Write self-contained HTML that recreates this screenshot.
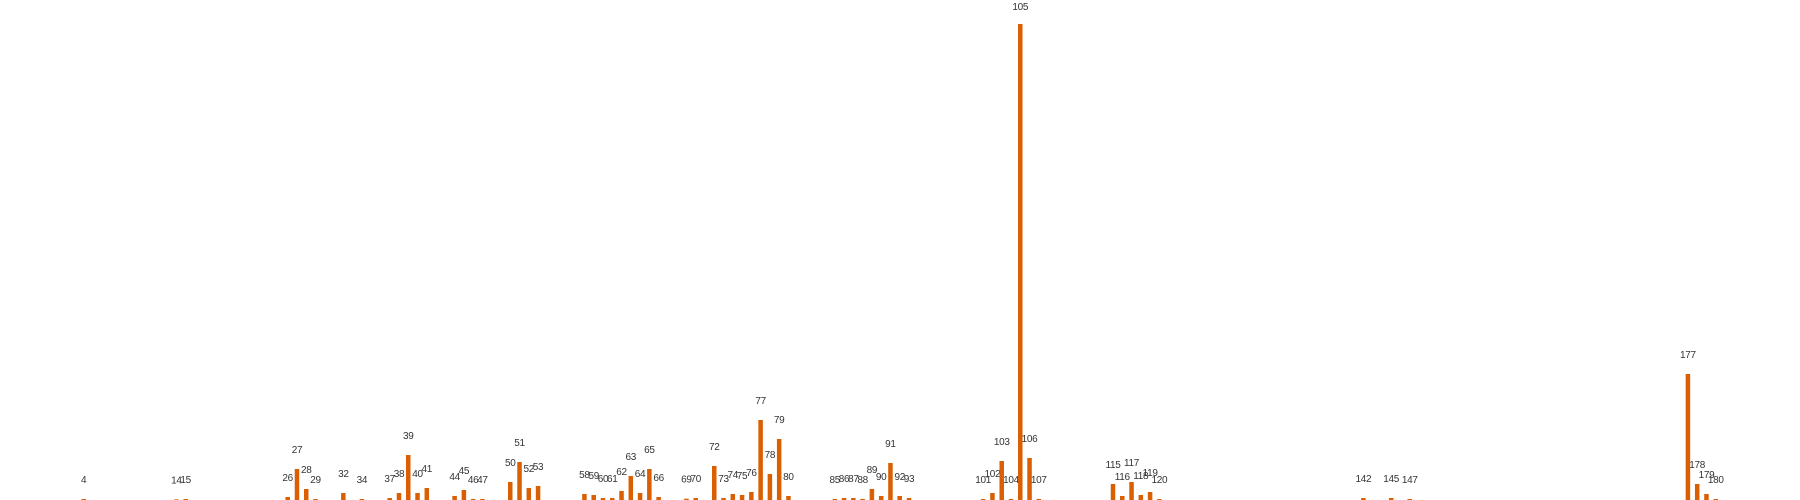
<!DOCTYPE html>
<html><head><meta charset="utf-8"><style>
html,body{margin:0;padding:0;background:#fff;}
svg{display:block;}
text{font-family:"Liberation Sans",sans-serif;font-size:10px;letter-spacing:-0.3px;fill:#333;}
</style></head><body>
<svg id="chart" width="1800" height="500" viewBox="0 0 1800 500"></svg>
<script>
const categories = [4,14,15,26,27,28,29,32,34,37,38,39,40,41,44,45,46,47,50,51,52,53,58,59,60,61,62,63,64,65,66,69,70,72,73,74,75,76,77,78,79,80,85,86,87,88,89,90,91,92,93,101,102,103,104,105,106,107,115,116,117,118,119,120,142,145,147,177,178,179,180];
const values = [1,0.6,1,3,31,11,1,7,1,2,7,45,7,12,4,10,1,1,18,38,12,14,6,5,2,2,9,24,7,31,3,1.3,2,34,2,6,5,8,80,26,61,4,1,2,2,1,11,4,37,4,2,1,7,39,1,476,42,1,16,4,18,5,8,1,2,2,1,126,16,6,1];
const svg = document.getElementById('chart');
const NS = 'http://www.w3.org/2000/svg';
const baseY = 500, x0 = 46.6, step = 9.273, barW = 4.5;
function xScale(c){ return x0 + c*step; }
function yScale(v){ return baseY - v; }
for (let i = 0; i < categories.length; i++) {
  const c = categories[i], v = values[i];
  const r = document.createElementNS(NS, 'rect');
  r.setAttribute('x', xScale(c) - barW/2);
  r.setAttribute('y', yScale(v));
  r.setAttribute('width', barW);
  r.setAttribute('height', baseY - yScale(v));
  r.setAttribute('fill', '#d95f02');
  
  
  svg.appendChild(r);
  const t = document.createElementNS(NS, 'text');
  t.setAttribute('x', xScale(c));
  t.setAttribute('y', Math.max(10, yScale(v) - 16));
  t.setAttribute('text-anchor', 'middle');
  t.textContent = String(c);
  
  
  svg.appendChild(t);
}
</script>
</body></html>
